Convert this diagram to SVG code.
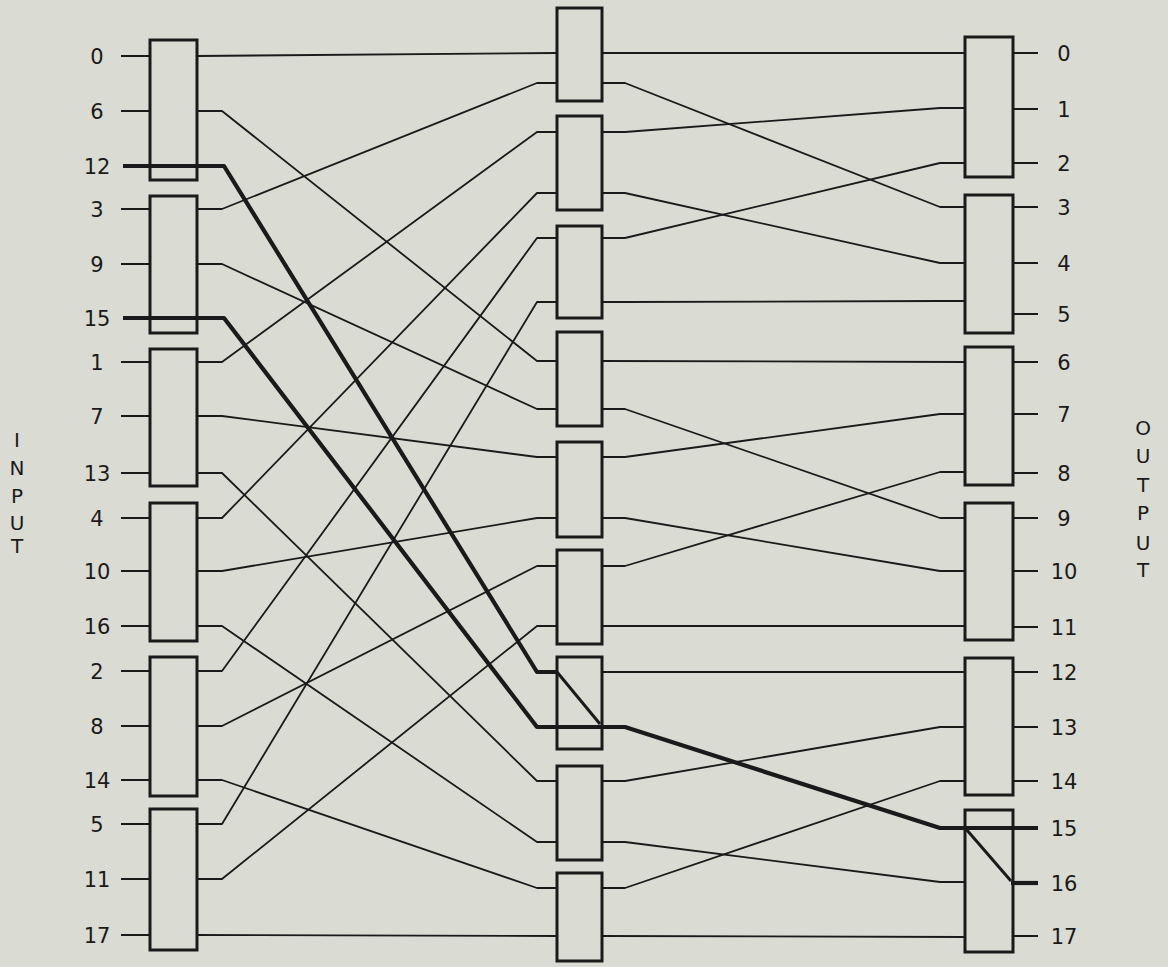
<svg xmlns="http://www.w3.org/2000/svg" width="1168" height="967" viewBox="0 0 1168 967">
<style>
.bg{fill:#dadbd3}
.box{fill:none;stroke:#1a1a1a;stroke-width:3}
.w{fill:none;stroke:#1a1a1a;stroke-width:1.8;stroke-linejoin:round}
.t{fill:none;stroke:#1a1a1a;stroke-width:4.2;stroke-linejoin:round}
.m{fill:none;stroke:#1a1a1a;stroke-width:3}
.lbl{font-family:"DejaVu Sans",sans-serif;font-size:21px;fill:#1a1a1a;text-anchor:middle}
.ttl{font-family:"DejaVu Sans",sans-serif;font-size:20px;fill:#1a1a1a;text-anchor:middle}
</style>
<rect class="bg" x="0" y="0" width="1168" height="967"/>

<g id="connectors">
  <!-- input stubs -->
  <path class="w" d="M121,56H150M121,111H150M121,209H150M121,264H150M121,362H150M121,416H150M121,473H150M121,518H150M121,571H150M121,626H150M121,671H150M121,726H150M121,780H150M121,824H150M121,879H150M121,935H150"/>
  <!-- left to middle -->
  <path class="w" d="M197,56L557,53"/>
  <path class="w" d="M197,111H222L537,361H557"/>
  <path class="w" d="M197,209H222L537,83H557"/>
  <path class="w" d="M197,264H222L537,409H557"/>
  <path class="w" d="M197,362H222L537,132H557"/>
  <path class="w" d="M197,416H222L537,457H557"/>
  <path class="w" d="M197,473H222L537,781H557"/>
  <path class="w" d="M197,518H222L537,193H557"/>
  <path class="w" d="M197,571H222L537,518H557"/>
  <path class="w" d="M197,626H222L537,842H557"/>
  <path class="w" d="M197,671H222L537,238H557"/>
  <path class="w" d="M197,726H222L537,566H557"/>
  <path class="w" d="M197,780H222L537,888H557"/>
  <path class="w" d="M197,824H222L537,302H557"/>
  <path class="w" d="M197,879H222L537,626H557"/>
  <path class="w" d="M197,935L557,936"/>
  <!-- middle to right -->
  <path class="w" d="M602,53L965,53"/>
  <path class="w" d="M602,83H625L940,207H965"/>
  <path class="w" d="M602,132H625L940,108H965"/>
  <path class="w" d="M602,193H625L940,263H965"/>
  <path class="w" d="M602,238H625L940,163H965"/>
  <path class="w" d="M602,302H625L940,301H965"/>
  <path class="w" d="M602,361L965,362"/>
  <path class="w" d="M602,409H625L940,518H965"/>
  <path class="w" d="M602,457H625L940,414H965"/>
  <path class="w" d="M602,518H625L940,571H965"/>
  <path class="w" d="M602,566H625L940,472H965"/>
  <path class="w" d="M602,626L965,626"/>
  <path class="w" d="M602,672L965,672"/>
  <path class="w" d="M602,781H625L940,727H965"/>
  <path class="w" d="M602,842H625L940,882H965"/>
  <path class="w" d="M602,888H625L940,781H965"/>
  <path class="w" d="M602,936L965,937"/>
  <!-- output stubs -->
  <path class="w" d="M1013,53H1038M1013,109H1038M1013,163H1038M1013,207H1038M1013,263H1038M1013,314H1038M1013,362H1038M1013,414H1038M1013,473H1038M1013,518H1038M1013,571H1038M1013,627H1038M1013,672H1038M1013,727H1038M1013,781H1038M1013,936H1038"/>
  <!-- highlighted paths -->
  <path class="t" d="M123,166H224L537,672H557"/>
  <path class="m" d="M557,672L600,724"/>
  <path class="t" d="M123,318H224L537,727H625L940,828H1038"/>
  <path class="m" d="M966,829L1011,881"/>
  <path class="t" d="M1011,883H1038"/>
</g>

<g id="stage1">
  <rect id="s1b1" class="box" x="150" y="40" width="47" height="140"/>
  <rect id="s1b2" class="box" x="150" y="196" width="47" height="137"/>
  <rect id="s1b3" class="box" x="150" y="349" width="47" height="137"/>
  <rect id="s1b4" class="box" x="150" y="503" width="47" height="138"/>
  <rect id="s1b5" class="box" x="150" y="657" width="47" height="139"/>
  <rect id="s1b6" class="box" x="150" y="809" width="47" height="141"/>
</g>
<g id="stage2">
  <rect id="s2b1" class="box" x="557" y="8" width="45" height="93"/>
  <rect id="s2b2" class="box" x="557" y="116" width="45" height="94"/>
  <rect id="s2b3" class="box" x="557" y="226" width="45" height="92"/>
  <rect id="s2b4" class="box" x="557" y="332" width="45" height="94"/>
  <rect id="s2b5" class="box" x="557" y="442" width="45" height="95"/>
  <rect id="s2b6" class="box" x="557" y="550" width="45" height="94"/>
  <rect id="s2b7" class="box" x="557" y="657" width="45" height="92"/>
  <rect id="s2b8" class="box" x="557" y="766" width="45" height="94"/>
  <rect id="s2b9" class="box" x="557" y="873" width="45" height="88"/>
</g>
<g id="stage3">
  <rect id="s3b1" class="box" x="965" y="37" width="48" height="140"/>
  <rect id="s3b2" class="box" x="965" y="195" width="48" height="138"/>
  <rect id="s3b3" class="box" x="965" y="347" width="48" height="138"/>
  <rect id="s3b4" class="box" x="965" y="503" width="48" height="137"/>
  <rect id="s3b5" class="box" x="965" y="658" width="48" height="137"/>
  <rect id="s3b6" class="box" x="965" y="810" width="48" height="142"/>
</g>

<g id="input-labels" class="lbl">
  <text class="lbl" x="97" y="64">0</text>
  <text class="lbl" x="97" y="119">6</text>
  <text class="lbl" x="97" y="174">12</text>
  <text class="lbl" x="97" y="217">3</text>
  <text class="lbl" x="97" y="272">9</text>
  <text class="lbl" x="97" y="326">15</text>
  <text class="lbl" x="97" y="370">1</text>
  <text class="lbl" x="97" y="424">7</text>
  <text class="lbl" x="97" y="481">13</text>
  <text class="lbl" x="97" y="526">4</text>
  <text class="lbl" x="97" y="579">10</text>
  <text class="lbl" x="97" y="634">16</text>
  <text class="lbl" x="97" y="679">2</text>
  <text class="lbl" x="97" y="734">8</text>
  <text class="lbl" x="97" y="788">14</text>
  <text class="lbl" x="97" y="832">5</text>
  <text class="lbl" x="97" y="887">11</text>
  <text class="lbl" x="97" y="943">17</text>
</g>
<g id="output-labels">
  <text class="lbl" x="1064" y="61">0</text>
  <text class="lbl" x="1064" y="117">1</text>
  <text class="lbl" x="1064" y="171">2</text>
  <text class="lbl" x="1064" y="215">3</text>
  <text class="lbl" x="1064" y="271">4</text>
  <text class="lbl" x="1064" y="322">5</text>
  <text class="lbl" x="1064" y="370">6</text>
  <text class="lbl" x="1064" y="422">7</text>
  <text class="lbl" x="1064" y="481">8</text>
  <text class="lbl" x="1064" y="526">9</text>
  <text class="lbl" x="1064" y="579">10</text>
  <text class="lbl" x="1064" y="635">11</text>
  <text class="lbl" x="1064" y="680">12</text>
  <text class="lbl" x="1064" y="735">13</text>
  <text class="lbl" x="1064" y="789">14</text>
  <text class="lbl" x="1064" y="836">15</text>
  <text class="lbl" x="1064" y="891">16</text>
  <text class="lbl" x="1064" y="944">17</text>
</g>
<g id="input-title">
  <text class="ttl" x="17" y="447">I</text>
  <text class="ttl" x="17" y="475">N</text>
  <text class="ttl" x="17" y="503">P</text>
  <text class="ttl" x="17" y="530">U</text>
  <text class="ttl" x="17" y="553">T</text>
</g>
<g id="output-title">
  <text class="ttl" x="1143" y="435">O</text>
  <text class="ttl" x="1143" y="463">U</text>
  <text class="ttl" x="1143" y="492">T</text>
  <text class="ttl" x="1143" y="520">P</text>
  <text class="ttl" x="1143" y="550">U</text>
  <text class="ttl" x="1143" y="577">T</text>
</g>
</svg>
